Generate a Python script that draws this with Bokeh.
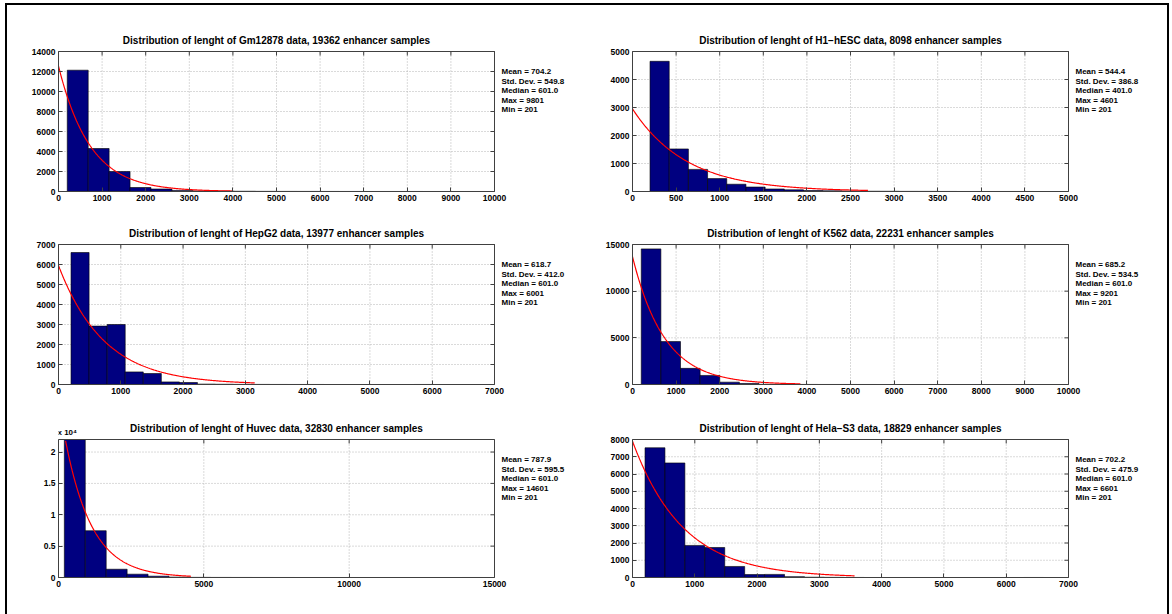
import numpy as np
from bokeh.plotting import figure
from bokeh.layouts import column, row
from bokeh.models import FixedTicker, Range1d
from bokeh.core.properties import value
from bokeh.embed import file_html
from bokeh.resources import INLINE

# ---- data ----
cell_lines = ["Gm12878", "H1\u2212hESC", "HepG2", "K562", "Huvec", "Hela\u2212S3"]
sample_counts = [19362, 8098, 13977, 22231, 32830, 18829]
mean_vals = [704.2, 544.4, 618.7, 685.2, 787.9, 702.2]
std_vals = [549.8, 386.8, 412.0, 534.5, 595.5, 475.9]
median_vals = [601.0, 401.0, 601.0, 601.0, 601.0, 601.0]
max_vals = [9801, 4601, 6001, 9201, 14601, 6601]
min_vals = [201, 201, 201, 201, 201, 201]

counts_gm12878 = [12130, 4300, 2000, 400, 250, 110, 60, 35, 25, 15, 10, 8, 5, 4, 3, 2, 2, 1, 1, 1]
counts_h1hesc = [4650, 1520, 790, 460, 260, 160, 90, 60, 35, 25, 15, 10, 8, 5, 4, 2, 1, 1, 1, 1]
counts_hepg2 = [6600, 2920, 3000, 630, 550, 130, 100, 20, 12, 6, 4, 2, 1, 1, 0, 0, 0, 0, 0, 1]
counts_k562 = [14530, 4600, 1730, 970, 250, 110, 18, 10, 6, 3, 2, 1, 0, 0, 0, 0, 0, 0, 0, 1]
counts_huvec = [23210, 7460, 1320, 530, 210, 60, 20, 10, 5, 3, 1, 0, 0, 0, 0, 0, 0, 0, 0, 1]
counts_helas3 = [7520, 6640, 1860, 1740, 640, 170, 180, 50, 18, 8, 2, 0, 0, 0, 0, 0, 0, 0, 0, 1]
all_counts = [counts_gm12878, counts_h1hesc, counts_hepg2, counts_k562, counts_huvec, counts_helas3]

# exponential fit curve parameters
fit_amp = [12540, 2950, 5950, 13700, 28400, 7900]
fit_scale = [720, 620, 730, 730, 920, 810]
fit_end = [4000, 2700, 3150, 3850, 4560, 3565]

# axes
x_max = [10000, 5000, 7000, 10000, 15000, 7000]
y_max = [14000, 5000, 7000, 15000, 22000, 8000]
x_step = [1000, 500, 1000, 1000, 5000, 1000]
y_step = [2000, 1000, 1000, 5000, 5000, 1000]
huvec_y_labels = {0: "0", 5000: "0.5", 10000: "1", 15000: "1.5", 20000: "2"}
n_bins = 20

FONT = "Liberation Sans"
NAVY = "#000080"
BOX_COLOR = "#404040"
GRID_COLOR = "#b4b4b4"

# ---- layout geometry (pixels) ----
col_width = [580, 580]
col_border_left = [51, 45]
row_height = [210, 195, 204]
row_top_ext = [46, 29, 29]
row_border_bottom = [24, 26, 37]
BOX_W = 436


def make_panel(i):
    r, c = divmod(i, 2)
    box_h = row_height[r] - row_top_ext[r] - row_border_bottom[r]
    frame_w = col_width[c] - col_border_left[c]
    ext_right = frame_w - BOX_W
    ext_top = row_top_ext[r]
    xm, ym = x_max[i], y_max[i]
    px_x = xm / BOX_W
    px_y = ym / box_h

    p = figure(width=col_width[c], height=row_height[r],
               x_range=Range1d(0, xm + ext_right * px_x), y_range=Range1d(0, ym + ext_top * px_y),
               output_backend="svg", toolbar_location=None,
               min_border_left=col_border_left[c], min_border_right=0,
               min_border_top=0, min_border_bottom=row_border_bottom[r],
               background_fill_color="white", border_fill_color="white")
    p.outline_line_color = None
    p.grid.visible = False

    xt = list(range(0, xm + 1, x_step[i]))
    yt = list(range(0, ym + 1, y_step[i]))
    p.xaxis.ticker = FixedTicker(ticks=xt)
    p.yaxis.ticker = FixedTicker(ticks=yt)
    p.xaxis.bounds = (0, xm)
    p.yaxis.bounds = (0, ym)
    if i == 4:
        p.yaxis.major_label_overrides = huvec_y_labels
    for ax in (p.xaxis[0], p.yaxis[0]):
        ax.major_label_text_font = FONT
        ax.major_label_text_font_size = "8.5px"
        ax.major_label_text_font_style = "bold"
        ax.major_label_text_color = "black"
        ax.major_tick_in = 4
        ax.major_tick_out = 0
        ax.minor_tick_line_color = None
        ax.axis_line_color = BOX_COLOR
        ax.major_tick_line_color = BOX_COLOR
        ax.major_label_standoff = 3

    # dotted grid inside the box
    p.segment(x0=xt, y0=0, x1=xt, y1=ym, line_color=GRID_COLOR, line_dash="1 2", line_width=1)
    p.segment(x0=0, y0=yt, x1=xm, y1=yt, line_color=GRID_COLOR, line_dash="1 2", line_width=1)

    # histogram bars
    edges = np.linspace(min_vals[i], max_vals[i], n_bins + 1)
    tops = np.minimum(np.array(all_counts[i], dtype=float), ym)
    p.quad(left=edges[:-1], right=edges[1:], bottom=0, top=tops,
           fill_color=NAVY, line_color="black", line_width=0.6)

    # exponential fit
    xs = np.linspace(0, fit_end[i], 300)
    ys = fit_amp[i] * np.exp(-xs / fit_scale[i])
    ys[ys > ym] = np.nan
    p.line(xs, ys, line_color="red", line_width=1.2)

    # box with inward ticks on top and right
    p.quad(left=0, right=xm, bottom=0, top=ym, fill_color=None, line_color=BOX_COLOR, line_width=1)
    p.segment(x0=xt, y0=ym, x1=xt, y1=ym - 4 * px_y, line_color=BOX_COLOR, line_width=1)
    p.segment(x0=xm, y0=yt, x1=xm - 4 * px_x, y1=yt, line_color=BOX_COLOR, line_width=1)

    # title
    title = "Distribution of lenght of %s data, %d enhancer samples" % (cell_lines[i], sample_counts[i])
    p.text(x=[xm / 2], y=[ym + 11 * px_y], text=[title], text_align="center", text_baseline="middle",
           text_font=value(FONT), text_font_size="10px", text_font_style="bold", text_color="black")

    # stats
    lines = ["Mean = %.1f" % mean_vals[i], "Std. Dev. = %.1f" % std_vals[i],
             "Median = %.1f" % median_vals[i], "Max = %d" % max_vals[i], "Min = %d" % min_vals[i]]
    ly = [ym - (20 + 9.6 * k) * px_y for k in range(len(lines))]
    p.text(x=[xm + 7 * px_x] * len(lines), y=ly, text=lines, text_align="left", text_baseline="middle",
           text_font=value(FONT), text_font_size="8px", text_font_style="bold", text_color="black")

    if i == 4:
        p.text(x=[-1 * px_x], y=[ym + 3 * px_y], text=["x 10\u2074"], text_align="left",
               text_baseline="bottom", text_font=value(FONT), text_font_size="8px",
               text_font_style="bold", text_color="black")
    return p


panels = [make_panel(i) for i in range(6)]
layout = column(row(panels[0], panels[1]), row(panels[2], panels[3]), row(panels[4], panels[5]),
                styles={"border-left": "2px solid black", "border-top": "2px solid black",
                        "border-right": "2px solid black", "margin-left": "5px", "margin-top": "3px"})

open("out.html", "w").write(file_html(layout, INLINE))
